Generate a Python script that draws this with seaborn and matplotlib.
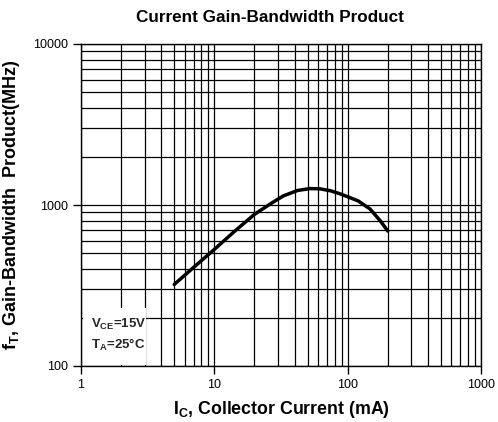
import numpy as np
import pandas as pd
import matplotlib
matplotlib.use("Agg")
import matplotlib.pyplot as plt
import matplotlib.patches as patches
from matplotlib.ticker import FixedLocator, FuncFormatter, LogLocator
import seaborn as sns

# Curve
ic_ma = [5, 7, 10, 14, 20, 27, 33, 42, 52, 62, 74, 86, 100, 120, 147, 175, 200]
ft_mhz = [321, 410, 530, 680, 875, 1030, 1140, 1230, 1265, 1260, 1227, 1180, 1125, 1060, 945, 800, 689]

x_ticks = [1, 10, 100, 1000]
y_ticks = [100, 1000, 10000]

sns.set_theme(style="white")
plt.rcParams["font.family"] = ["Liberation Sans", "DejaVu Sans"]
plt.rcParams["mathtext.fontset"] = "custom"
plt.rcParams["mathtext.rm"] = "Liberation Sans"
plt.rcParams["mathtext.bf"] = "Liberation Sans:bold"
plt.rcParams["mathtext.it"] = "Liberation Sans:italic"

df = pd.DataFrame({"ic": ic_ma, "ft": ft_mhz})

fig = plt.figure(figsize=(4.98, 4.22), dpi=100)
ax = fig.add_axes([81 / 498, 1 - 366 / 422, 400 / 498, 322 / 422])

sns.lineplot(data=df, x="ic", y="ft", ax=ax, color="black", lw=2.5, zorder=4)

ax.set_xscale("log")
ax.set_yscale("log")
ax.set_xlim(1, 1000)
ax.set_ylim(100, 10000)

ax.xaxis.set_major_locator(FixedLocator(x_ticks))
ax.yaxis.set_major_locator(FixedLocator(y_ticks))
ax.xaxis.set_minor_locator(LogLocator(base=10, subs=np.arange(2, 10)))
ax.yaxis.set_minor_locator(LogLocator(base=10, subs=np.arange(2, 10)))
fmt = FuncFormatter(lambda v, p: f"{int(round(v))}")
ax.xaxis.set_major_formatter(fmt)
ax.yaxis.set_major_formatter(fmt)
ax.xaxis.set_minor_formatter(FuncFormatter(lambda v, p: ""))
ax.yaxis.set_minor_formatter(FuncFormatter(lambda v, p: ""))

ax.grid(which="both", color="black", lw=0.9)
ax.set_axisbelow(True)
for s in ax.spines.values():
    s.set_color("black")
    s.set_linewidth(1.0)
ax.tick_params(which="major", direction="out", length=6, width=1, color="black",
               labelsize=9, labelcolor="black", pad=3, bottom=True, left=True)
ax.tick_params(which="minor", length=0)

# white box behind the conditions text
ax.add_patch(patches.Rectangle((0.004, 0.004), 0.158, 0.176, transform=ax.transAxes,
                               facecolor="white", edgecolor="none", zorder=3))
ax.text(0.025, 0.13, r"V$_{\mathbf{CE}}$=15V", transform=ax.transAxes, fontsize=9.5,
        fontweight="bold", va="center", ha="left", zorder=5)
ax.text(0.025, 0.065, r"T$_{\mathbf{A}}$=25°C", transform=ax.transAxes, fontsize=9.5,
        fontweight="bold", va="center", ha="left", zorder=5)

ax.set_xlabel(r"I$_{\mathbf{C}}$, Collector Current (mA)", fontsize=12.8, fontweight="bold",
              color="black", labelpad=6)
ax.set_ylabel(r"f$_{\mathbf{T}}$, Gain-Bandwidth  Product(MHz)", fontsize=13, fontweight="bold",
              color="black", labelpad=8)
fig.text(0.542, 1 - 17 / 422, "Current Gain-Bandwidth Product", fontsize=12.3, fontweight="bold",
         ha="center", va="center", color="black")

fig.savefig("out.png", dpi=100, facecolor="white")
